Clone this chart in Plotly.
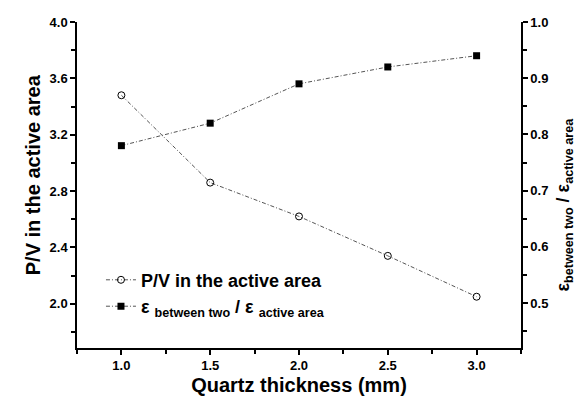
import plotly.graph_objects as go

thickness = [1.0, 1.5, 2.0, 2.5, 3.0]
pv_active = [3.48, 2.86, 2.62, 2.34, 2.05]
eps_ratio = [0.78, 0.82, 0.89, 0.92, 0.94]

FONT = "Liberation Sans, Arial, sans-serif"
DASH = "4px,2px,1px,2px"

fig = go.Figure()
fig.add_trace(go.Scatter(
    x=thickness, y=pv_active, name="P/V in the active area",
    mode="lines+markers",
    line=dict(color="#555555", width=1, dash=DASH),
    marker=dict(symbol="circle-open", size=7, color="black", line=dict(width=1, color="black")),
    yaxis="y",
))
fig.add_trace(go.Scatter(
    x=thickness, y=eps_ratio,
    name="\u03b5 <sub>between two</sub> / \u03b5 <sub>active area</sub>",
    mode="lines+markers",
    line=dict(color="#555555", width=1, dash=DASH),
    marker=dict(symbol="square", size=7, color="black"),
    yaxis="y2",
))

axis_common = dict(
    showline=True, linecolor="black", linewidth=1.5, mirror=False,
    showgrid=False, zeroline=False, automargin=False,
    ticks="outside", ticklen=5, tickwidth=1.5, tickcolor="black",
    tickfont=dict(family=FONT, size=13, color="black", weight="bold"),
)

fig.update_layout(
    width=586, height=398,
    template="none",
    paper_bgcolor="white", plot_bgcolor="white",
    margin=dict(l=69, r=73, t=14, b=58),
    font=dict(family=FONT, color="black"),
    xaxis=dict(
        range=[0.75, 3.25], dtick=0.5, tick0=1.0, tickformat=".1f",
        title=dict(text="Quartz thickness (mm)", font=dict(family=FONT, size=20, weight="bold"), standoff=6),
        minor=dict(ticks="outside", ticklen=4, tickwidth=1.5, tickcolor="black", dtick=0.25, tick0=1.0, showgrid=False),
        **axis_common,
    ),
    yaxis=dict(
        range=[1.686, 4.0], dtick=0.4, tick0=2.0, tickformat=".1f",
        minor=dict(ticks="outside", ticklen=4, tickwidth=1.5, tickcolor="black", dtick=0.2, tick0=2.0, showgrid=False),
        **axis_common,
    ),
    yaxis2=dict(
        range=[0.42, 1.0], dtick=0.1, tick0=0.5, tickformat=".1f",
        overlaying="y", side="right",
        minor=dict(ticks="outside", ticklen=4, tickwidth=1.5, tickcolor="black", dtick=0.05, tick0=0.5, showgrid=False),
        **axis_common,
    ),
    legend=dict(
        x=0.054, y=0.265, xanchor="left", yanchor="top",
        bgcolor="rgba(0,0,0,0)", borderwidth=0,
        font=dict(family=FONT, size=18, color="black", weight="bold"),
        tracegroupgap=0,
    ),
    showlegend=True,
    annotations=[
        dict(text="P/V in the active area", textangle=-90, showarrow=False,
             xref="paper", yref="paper", x=-0.099, y=0.53, xanchor="center", yanchor="middle",
             font=dict(family=FONT, size=20, color="black", weight="bold")),
        dict(text="\u03b5<sub>between two</sub> / \u03b5<sub>active area</sub>", textangle=-90, showarrow=False,
             xref="paper", yref="paper", x=1.099, y=0.44, xanchor="center", yanchor="middle",
             font=dict(family=FONT, size=18, color="black", weight="bold")),
    ],
)

fig.write_html("out.html")
